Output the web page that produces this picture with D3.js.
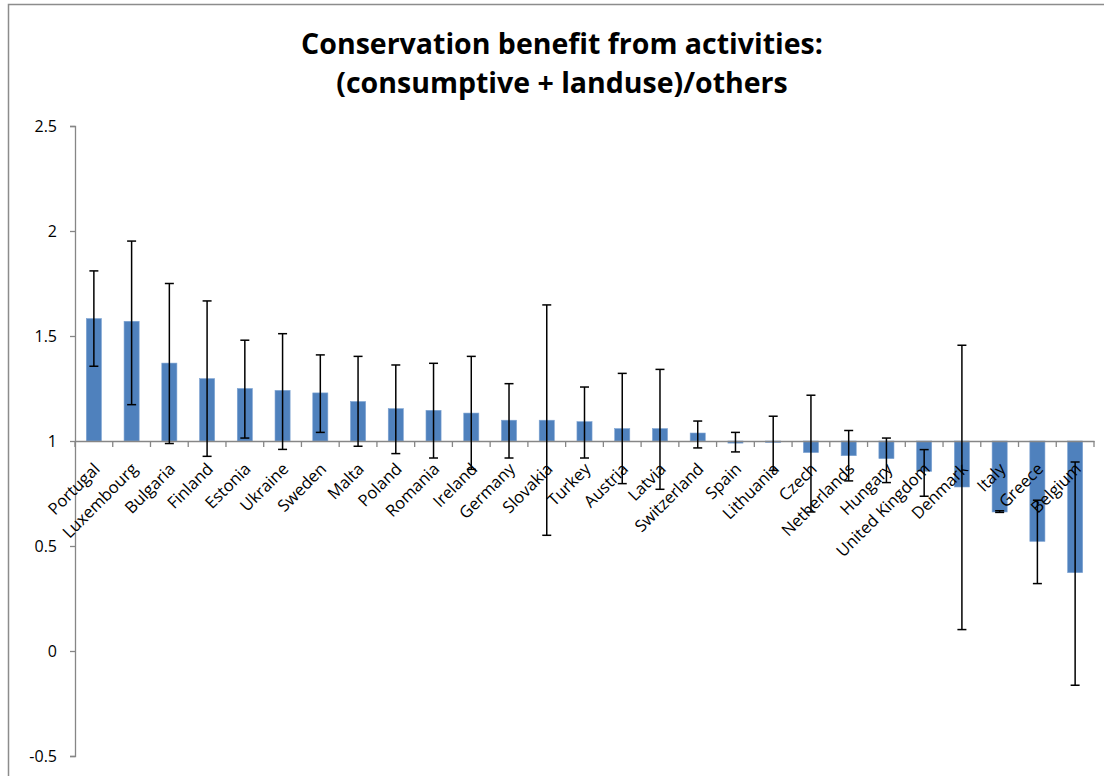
<!DOCTYPE html>
<html>
<head>
<meta charset="utf-8">
<script src="https://d3js.org/d3.v7.min.js"></script>
<style>
  html, body { margin: 0; padding: 0; background: #fff; }
  svg { display: block; }
</style>
</head>
<body>
<script>
const categories = ["Portugal","Luxembourg","Bulgaria","Finland","Estonia","Ukraine","Sweden","Malta","Poland","Romania","Ireland","Germany","Slovakia","Turkey","Austria","Latvia","Switzerland","Spain","Lithuania","Czech","Netherlands","Hungary","United Kingdom","Denmark","Italy","Greece","Belgium"];
const values    = [1.583,1.570,1.371,1.297,1.250,1.241,1.229,1.188,1.154,1.146,1.133,1.099,1.099,1.092,1.059,1.059,1.038,0.990,0.993,0.945,0.930,0.916,0.856,0.781,0.662,0.522,0.373];
const errUpper  = [1.810,1.952,1.750,1.667,1.480,1.511,1.410,1.403,1.362,1.370,1.403,1.273,1.648,1.257,1.322,1.341,1.095,1.041,1.118,1.218,1.050,1.014,0.959,1.456,0.668,0.718,0.900];
const errLower  = [1.356,1.173,0.988,0.927,1.014,0.960,1.041,0.975,0.940,0.919,0.865,0.919,0.551,0.919,0.797,0.770,0.967,0.948,0.860,0.662,0.810,0.802,0.737,0.102,0.660,0.321,-0.163];
const yTicks    = [-0.5, 0, 0.5, 1, 1.5, 2, 2.5];
const baseline  = 1;
const titleLines = ["Conservation benefit from activities:", "(consumptive + landuse)/others"];

const W = 1104, H = 776;
const svg = d3.select("body").append("svg").attr("width", W).attr("height", H);
const font = "'Open Sans', sans-serif";

// outer chart border (only top & left visible)
svg.append("rect").attr("x", 8.5).attr("y", 4.5).attr("width", 1200).attr("height", 900)
  .attr("fill", "none").attr("stroke", "#8c8c8c").attr("stroke-width", 1.5);

const x = d3.scaleBand().domain(categories).range([75, 1094]).paddingInner(0).paddingOuter(0);
const y = d3.scaleLinear().domain([-0.5, 2.5]).range([756, 126]);

// title
svg.append("g").selectAll("text").data(titleLines).join("text")
  .attr("x", 562).attr("y", (d, i) => 54 + i * 39)
  .attr("text-anchor", "middle")
  .attr("font-family", font).attr("font-weight", "bold").attr("font-size", 28.5)
  .attr("fill", "#000").text(d => d);

// y axis
const yAxis = d3.axisLeft(y).tickValues(yTicks).tickSize(5).tickPadding(13)
  .tickFormat(d => String(d));
const gy = svg.append("g").attr("transform", "translate(75,0)").call(yAxis);
gy.select(".domain").attr("stroke", "#868686").attr("stroke-width", 1.3);
gy.selectAll(".tick line").attr("stroke", "#868686").attr("stroke-width", 1.3);
gy.selectAll(".tick text").attr("font-family", font).attr("font-size", 16).attr("fill", "#000");

// bars
const bw = x.bandwidth() / 2.5;
svg.append("g").selectAll("rect").data(categories).join("rect")
  .attr("x", d => x(d) + x.bandwidth() / 2 - bw / 2)
  .attr("width", bw)
  .attr("y", (d, i) => Math.min(y(values[i]), y(baseline)))
  .attr("height", (d, i) => Math.abs(y(values[i]) - y(baseline)))
  .attr("fill", "#4F81BD")
  .attr("stroke", "#7ea3d2").attr("stroke-width", 0.6);

// x axis at baseline
const xAxis = d3.axisBottom(x).tickSize(0).tickFormat("");
const gx = svg.append("g").attr("transform", `translate(0,${y(baseline)})`).call(xAxis);
gx.select(".domain").attr("stroke", "#868686").attr("stroke-width", 1.3);
const boundaries = categories.map(d => x(d)).concat([x.range()[1]]);
gx.append("g").selectAll("line").data(boundaries).join("line")
  .attr("x1", d => d).attr("x2", d => d).attr("y1", 0).attr("y2", 6)
  .attr("stroke", "#868686").attr("stroke-width", 1.3);

// error bars
const eb = svg.append("g").attr("stroke", "#000").attr("stroke-width", 1.5);
categories.forEach((c, i) => {
  const cx = x(c) + x.bandwidth() / 2;
  eb.append("line").attr("x1", cx).attr("x2", cx).attr("y1", y(errUpper[i])).attr("y2", y(errLower[i]));
  eb.append("line").attr("x1", cx - 4.5).attr("x2", cx + 4.5).attr("y1", y(errUpper[i])).attr("y2", y(errUpper[i]));
  eb.append("line").attr("x1", cx - 4.5).attr("x2", cx + 4.5).attr("y1", y(errLower[i])).attr("y2", y(errLower[i]));
});

// category labels rotated
svg.append("g").selectAll("text").data(categories).join("text")
  .attr("transform", d => `translate(${x(d) + x.bandwidth() / 2 + 7},${y(baseline) + 29}) rotate(-45)`)
  .attr("text-anchor", "end")
  .attr("font-family", font).attr("font-size", 16.5).attr("fill", "#000")
  .text(d => d);
</script>
</body>
</html>
